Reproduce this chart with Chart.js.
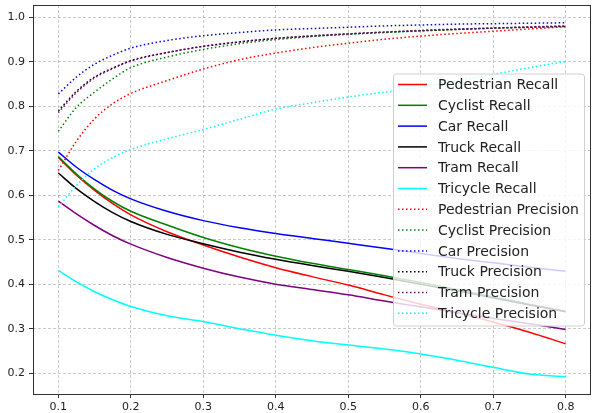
<!DOCTYPE html>
<html>
<head>
<meta charset="utf-8">
<script src="https://cdn.jsdelivr.net/npm/chart.js@4.4.1/dist/chart.umd.min.js"></script>
<style>
  html, body { margin: 0; padding: 0; background: #fff; }
  #chart { display: block; }
</style>
</head>
<body>
<canvas id="chart" width="592" height="413"></canvas>
<script>
// thresholds on the x axis
const thresholds = [0.1, 0.125, 0.15, 0.175, 0.2, 0.25, 0.3, 0.35, 0.4, 0.45, 0.5, 0.55, 0.6, 0.65, 0.7, 0.75, 0.8];
const xTicks = [0.1, 0.2, 0.3, 0.4, 0.5, 0.6, 0.7, 0.8];
const yTicks = [0.2, 0.3, 0.4, 0.5, 0.6, 0.7, 0.8, 0.9, 1.0];

// recall
const pedestrianRecall = [0.685, 0.645, 0.611, 0.581, 0.556, 0.518, 0.488, 0.461, 0.437, 0.417, 0.398, 0.376, 0.355, 0.336, 0.315, 0.292, 0.266];
const cyclistRecall    = [0.687, 0.648, 0.614, 0.586, 0.564, 0.533, 0.505, 0.482, 0.463, 0.447, 0.433, 0.419, 0.404, 0.388, 0.371, 0.355, 0.339];
const carRecall        = [0.697, 0.663, 0.635, 0.611, 0.592, 0.564, 0.543, 0.527, 0.514, 0.503, 0.492, 0.481, 0.469, 0.458, 0.448, 0.438, 0.429];
const truckRecall      = [0.650, 0.615, 0.586, 0.561, 0.541, 0.512, 0.491, 0.472, 0.456, 0.442, 0.429, 0.415, 0.400, 0.385, 0.369, 0.353, 0.338];
const tramRecall       = [0.587, 0.558, 0.532, 0.509, 0.490, 0.460, 0.436, 0.416, 0.400, 0.388, 0.376, 0.362, 0.349, 0.336, 0.323, 0.311, 0.298];
const tricycleRecall   = [0.431, 0.405, 0.383, 0.365, 0.350, 0.329, 0.316, 0.300, 0.285, 0.273, 0.263, 0.254, 0.243, 0.229, 0.213, 0.198, 0.192];

// precision
const pedestrianPrecision = [0.656, 0.722, 0.772, 0.806, 0.829, 0.858, 0.884, 0.905, 0.920, 0.932, 0.942, 0.951, 0.958, 0.964, 0.969, 0.974, 0.979];
const cyclistPrecision    = [0.744, 0.798, 0.832, 0.862, 0.887, 0.911, 0.928, 0.941, 0.950, 0.957, 0.962, 0.966, 0.970, 0.973, 0.976, 0.978, 0.980];
const carPrecision        = [0.828, 0.866, 0.895, 0.915, 0.931, 0.948, 0.959, 0.966, 0.972, 0.975, 0.978, 0.981, 0.983, 0.985, 0.986, 0.987, 0.988];
const truckPrecision      = [0.790, 0.834, 0.866, 0.886, 0.903, 0.921, 0.935, 0.945, 0.953, 0.958, 0.963, 0.967, 0.970, 0.973, 0.976, 0.978, 0.980];
const tramPrecision       = [0.786, 0.831, 0.864, 0.885, 0.902, 0.921, 0.935, 0.945, 0.953, 0.959, 0.963, 0.967, 0.971, 0.974, 0.976, 0.979, 0.981];
const tricyclePrecision   = [0.574, 0.622, 0.660, 0.685, 0.703, 0.727, 0.748, 0.771, 0.794, 0.808, 0.821, 0.832, 0.843, 0.857, 0.872, 0.887, 0.901];

const FONT = "'DejaVu Sans', sans-serif";
const DOTS = [1.5, 2.5];

const series = [
    ['Pedestrian Recall', pedestrianRecall, '#ff0000', false],
    ['Cyclist Recall', cyclistRecall, '#008000', false],
    ['Car Recall', carRecall, '#0000ff', false],
    ['Truck Recall', truckRecall, '#000000', false],
    ['Tram Recall', tramRecall, '#800080', false],
    ['Tricycle Recall', tricycleRecall, '#00ffff', false],
    ['Pedestrian Precision', pedestrianPrecision, '#ff0000', true],
    ['Cyclist Precision', cyclistPrecision, '#008000', true],
    ['Car Precision', carPrecision, '#0000ff', true],
    ['Truck Precision', truckPrecision, '#000000', true],
    ['Tram Precision', tramPrecision, '#800080', true],
    ['Tricycle Precision', tricyclePrecision, '#00ffff', true],
];

const datasets = series.map(([label, values, color, dotted], i) => ({
    label,
    data: values.map((v, j) => ({ x: thresholds[j], y: v })),
    borderColor: color,
    borderWidth: 1.5,
    borderDash: dotted ? DOTS : [],
    pointRadius: 0,
    cubicInterpolationMode: 'monotone',
    fill: false,
    order: -i,
}));

// matplotlib-like frame around the plot area
const frame = {
    id: 'frame',
    afterDatasetsDraw(chart) {
        const { ctx, chartArea: a } = chart;
        ctx.save();
        ctx.strokeStyle = '#333';
        ctx.lineWidth = 1;
        const l = Math.round(a.left) + 0.5, t = Math.round(a.top) + 0.5;
        const r = Math.round(a.right) - 0.5, b = Math.round(a.bottom) + 0.5;
        ctx.strokeRect(l, t, r - l, b - t);
        ctx.restore();
    },
};

// legend box inside the plot, center right
const boxLegend = {
    id: 'boxLegend',
    afterDraw(chart) {
        const { ctx, chartArea: a } = chart;
        const rowH = 20.8, w = 191, h = 252;
        const x0 = a.right - 7 - w;
        const y0 = (a.top + a.bottom) / 2 - h / 2;
        ctx.save();
        ctx.beginPath();
        ctx.roundRect(x0 + 0.5, y0 + 0.5, w, h, 3);
        ctx.fillStyle = 'rgba(255, 255, 255, 0.8)';
        ctx.fill();
        ctx.strokeStyle = '#d0d0d0';
        ctx.lineWidth = 1;
        ctx.stroke();
        ctx.font = '14px ' + FONT;
        ctx.textBaseline = 'middle';
        chart.data.datasets.forEach((ds, i) => {
            const y = y0 + 11 + i * rowH;
            ctx.beginPath();
            ctx.setLineDash(ds.borderDash);
            ctx.strokeStyle = ds.borderColor;
            ctx.lineWidth = ds.borderWidth;
            ctx.moveTo(x0 + 5, y);
            ctx.lineTo(x0 + 34, y);
            ctx.stroke();
            ctx.setLineDash([]);
            ctx.fillStyle = '#222';
            ctx.fillText(ds.label, x0 + 45, y + 1);
        });
        ctx.restore();
    },
};

const gridOpts = {
    color: 'rgba(176, 176, 176, 0.85)',
    lineWidth: 0.8,
    tickLength: 4,
    tickColor: '#333',
    tickWidth: 1,
};

new Chart(document.getElementById('chart'), {
    type: 'line',
    data: { datasets },
    options: {
        responsive: false,
        animation: false,
        layout: { padding: { top: 5, right: 1, left: 0, bottom: 0 } },
        plugins: {
            legend: { display: false },
            tooltip: { enabled: false },
        },
        scales: {
            x: {
                type: 'linear',
                min: 0.065,
                max: 0.835,
                afterBuildTicks: s => { s.ticks = xTicks.map(v => ({ value: v })); },
                afterFit: s => { s.height = 19; s.paddingLeft = 0; s.paddingRight = 0; },
                ticks: {
                    color: '#222',
                    padding: 3,
                    maxRotation: 0,
                    font: { family: FONT, size: 11 },
                    callback: v => v.toFixed(1),
                },
                grid: gridOpts,
                border: { display: false, dash: [3, 2] },
            },
            y: {
                type: 'linear',
                min: 0.153,
                max: 1.028,
                afterBuildTicks: s => { s.ticks = yTicks.map(v => ({ value: v })); },
                afterFit: s => { s.width = 33; s.paddingTop = 0; s.paddingBottom = 0; },
                ticks: {
                    color: '#222',
                    padding: 4,
                    font: { family: FONT, size: 11 },
                    callback: v => v.toFixed(1),
                },
                grid: gridOpts,
                border: { display: false, dash: [3, 2] },
            },
        },
    },
    plugins: [frame, boxLegend],
});
</script>
</body>
</html>
